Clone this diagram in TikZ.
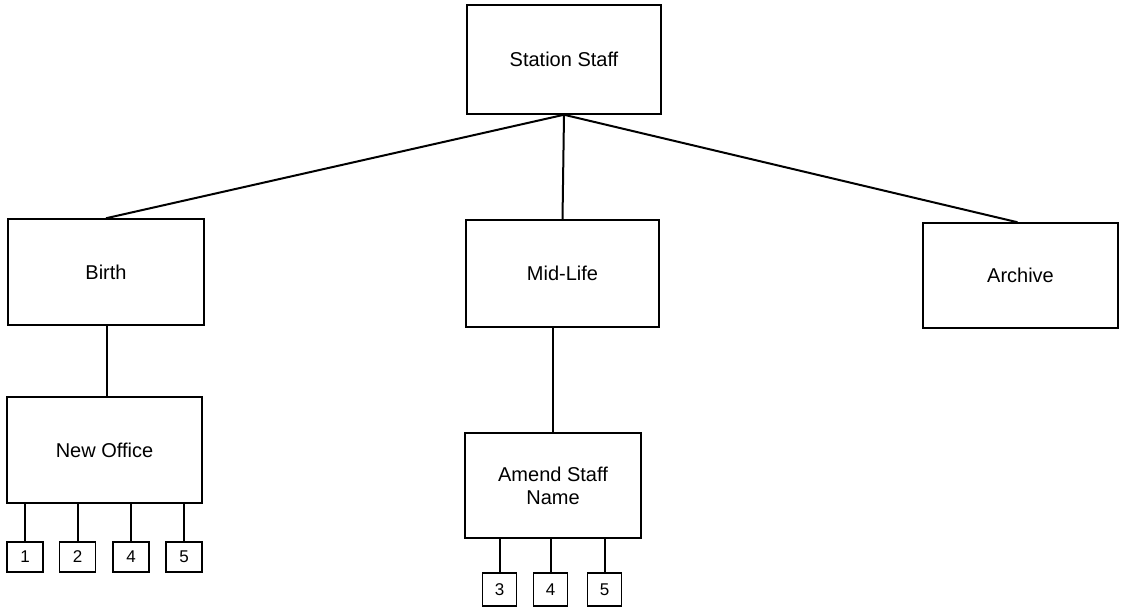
\documentclass[tikz,border=0pt]{standalone}
\usepackage{fontspec}
\setmainfont{Liberation Sans}
\begin{document}
\begin{tikzpicture}[x=1pt,y=-1pt,
  box/.style={draw,line width=1.5pt,inner sep=0pt,align=center,font=\fontsize{20}{23}\selectfont},
  numbox/.style={draw,line width=1.5pt,inner sep=0pt,font=\fontsize{17}{19}\selectfont},
  link/.style={line width=2pt}]
\useasboundingbox (0,0) rectangle (1122,608);
\node[box,minimum width=194pt,minimum height=109pt] (staff) at (564,59.5) {Station Staff};
\node[box,minimum width=196pt,minimum height=106pt] (birth) at (106,272) {Birth};
\node[box,minimum width=193pt,minimum height=107pt] (mid) at (562.5,273.5) {Mid-Life};
\node[box,minimum width=195pt,minimum height=105pt] (arch) at (1020.5,275.5) {Archive};
\node[box,minimum width=195pt,minimum height=106pt] (newoff) at (104.5,450) {New Office};
\node[box,minimum width=176pt,minimum height=105pt] (amend) at (553,485.5) {Amend Staff\\Name};
\node[numbox,minimum width=36pt,minimum height=30pt] (a1) at (25,557) {1};
\node[numbox,minimum width=36pt,minimum height=30pt] (a2) at (77.5,557) {2};
\node[numbox,minimum width=36pt,minimum height=30pt] (a4) at (131,557) {4};
\node[numbox,minimum width=36pt,minimum height=30pt] (a5) at (184,557) {5};
\node[numbox,minimum width=34pt,minimum height=33pt] (b3) at (499.5,589.5) {3};
\node[numbox,minimum width=34pt,minimum height=33pt] (b4) at (550.5,589.5) {4};
\node[numbox,minimum width=34pt,minimum height=33pt] (b5) at (604.5,589.5) {5};
\draw[link] (staff.south) -- (birth.north);
\draw[link] (staff.south) -- (mid.north);
\draw[link] (staff.south) -- ([xshift=-3pt]arch.north);
\draw[link] ([xshift=1pt]birth.south) -- ([xshift=1pt]birth.south |- newoff.north);
\draw[link] (amend.north) -- (amend.north |- mid.south);
\foreach \n in {a1,a2,a4,a5}{\draw[link] (\n.north) -- (\n.north |- newoff.south);}
\foreach \n in {b3,b4,b5}{\draw[link] (\n.north) -- (\n.north |- amend.south);}
\end{tikzpicture}
\end{document}
